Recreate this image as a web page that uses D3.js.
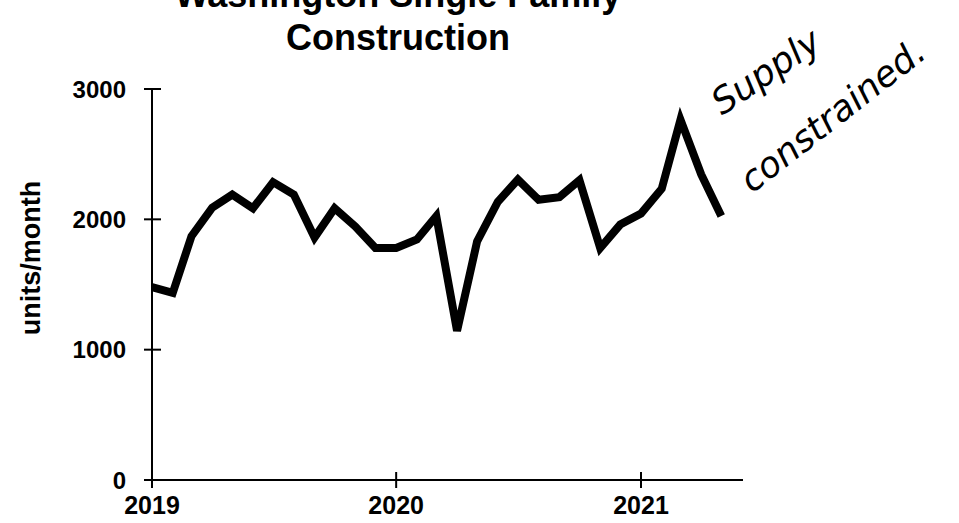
<!DOCTYPE html>
<html>
<head>
<meta charset="utf-8">
<script src="https://cdn.jsdelivr.net/npm/d3@7"></script>
<style>
  body { margin: 0; background: #fff; }
  svg text { font-family: "Liberation Sans", Arial, sans-serif; font-weight: bold; fill: #000; }
  .note { font-family: "DejaVu Sans", sans-serif; font-style: oblique; font-weight: 200; }
</style>
</head>
<body>
<svg width="959" height="523"></svg>
<script>
// monthly single family units, Jan 2019 .. May 2021
var months = d3.range(29).map(function(i) { return new Date(2019, i, 1); });
var units = [1480, 1435, 1870, 2090, 2190, 2085, 2285, 2190, 1860, 2085, 1945, 1780,
             1780, 1845, 2025, 1145, 1830, 2135, 2305, 2150, 2170, 2300, 1780, 1960,
             2045, 2235, 2765, 2345, 2025];
var yTicks = [0, 1000, 2000, 3000];
var xTicks = [2019, 2020, 2021];
var titleLines = ["Washington Single Family", "Construction"];
var noteLines = ["Supply", "constrained."];

var svg = d3.select("svg");

var x = d3.scaleTime()
    .domain([new Date(2019, 0, 1), new Date(2021, 0, 1)])
    .range([152, 641]);
var y = d3.scaleLinear()
    .domain([0, 3000])
    .range([480, 89]);

// title (first line runs off the top, as in the source)
svg.selectAll(".title")
    .data(titleLines)
    .enter().append("text")
    .attr("class", "title")
    .attr("x", 398)
    .attr("y", function(d, i) { return 7 + i * 43; })
    .attr("text-anchor", "middle")
    .style("font-size", "36px")
    .text(function(d) { return d; });

// y axis
svg.append("line")
    .attr("x1", 152).attr("x2", 152)
    .attr("y1", y(3000)).attr("y2", y(0))
    .attr("stroke", "#000").attr("stroke-width", 2);

svg.selectAll(".ytick")
    .data(yTicks)
    .enter().append("line")
    .attr("x1", 144).attr("x2", 161)
    .attr("y1", function(d) { return y(d); })
    .attr("y2", function(d) { return y(d); })
    .attr("stroke", "#000").attr("stroke-width", 2);

svg.selectAll(".ylab")
    .data(yTicks)
    .enter().append("text")
    .attr("x", 126)
    .attr("y", function(d) { return y(d); })
    .attr("dy", "0.36em")
    .attr("text-anchor", "end")
    .style("font-size", "24px")
    .text(function(d) { return d; });

svg.append("text")
    .attr("transform", "translate(40,258) rotate(-90)")
    .attr("text-anchor", "middle")
    .style("font-size", "27px")
    .text("units/month");

// x axis
svg.append("line")
    .attr("x1", 144).attr("x2", 743)
    .attr("y1", y(0)).attr("y2", y(0))
    .attr("stroke", "#000").attr("stroke-width", 2);

svg.selectAll(".xtick")
    .data(xTicks)
    .enter().append("line")
    .attr("x1", function(d) { return x(new Date(d, 0, 1)); })
    .attr("x2", function(d) { return x(new Date(d, 0, 1)); })
    .attr("y1", y(0) - 8).attr("y2", y(0) + 8)
    .attr("stroke", "#000").attr("stroke-width", 2);

svg.selectAll(".xlab")
    .data(xTicks)
    .enter().append("text")
    .attr("x", function(d) { return x(new Date(d, 0, 1)); })
    .attr("y", 514)
    .attr("text-anchor", "middle")
    .style("font-size", "25px")
    .text(function(d) { return d; });

// the series
var line = d3.line()
    .x(function(d, i) { return x(months[i]); })
    .y(function(d) { return y(d); });

svg.append("path")
    .datum(units)
    .attr("d", line)
    .attr("fill", "none")
    .attr("stroke", "#000")
    .attr("stroke-width", 8)
    .attr("stroke-linejoin", "miter");

// handwritten note
svg.append("text")
    .attr("class", "note")
    .attr("transform", "translate(722,116) rotate(-34)")
    .style("font-size", "36px")
    .text(noteLines[0]);
svg.append("text")
    .attr("class", "note")
    .attr("transform", "translate(752,194) rotate(-38)")
    .style("font-size", "36px")
    .text(noteLines[1]);
</script>
</body>
</html>
